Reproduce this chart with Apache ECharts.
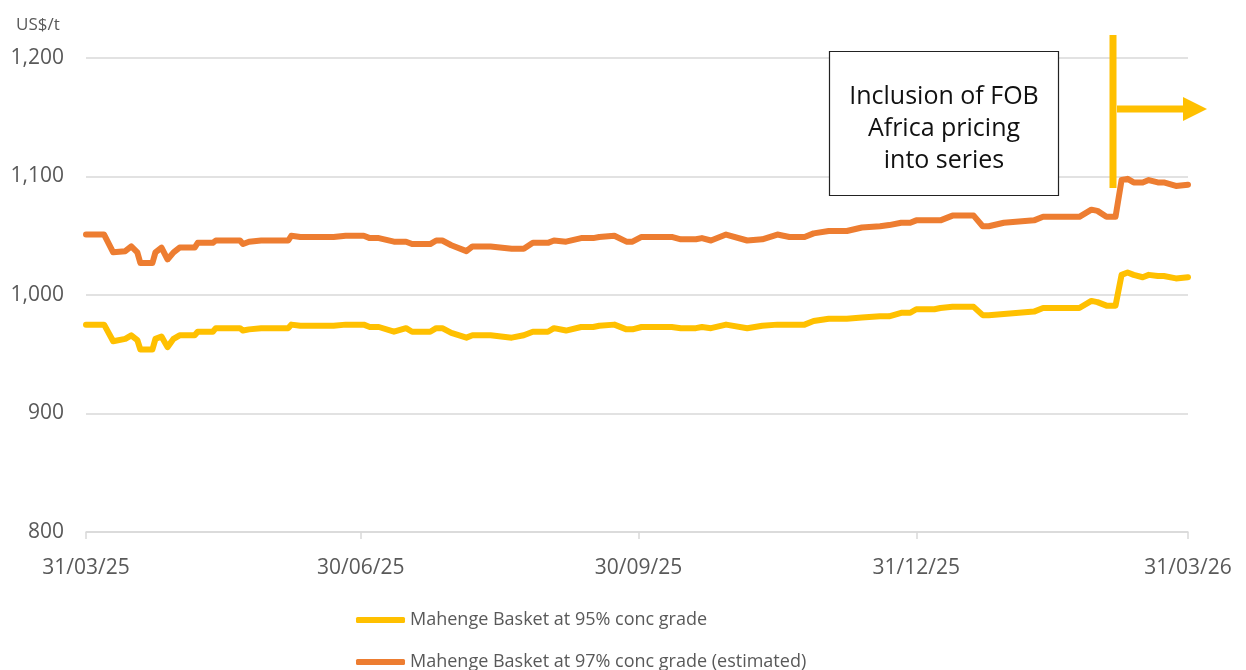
<!DOCTYPE html>
<html>
<head>
<meta charset="utf-8">
<script src="https://cdn.jsdelivr.net/npm/echarts@6/dist/echarts.min.js"></script>
<style>
  html, body { margin: 0; padding: 0; background: #fff; }
  #main { width: 1246px; height: 670px; }
</style>
</head>
<body>
<div id="main"></div>
<script>
// dates of the readings (same for both series)
var dates = [
  '2025-03-31','2025-04-06','2025-04-09','2025-04-13','2025-04-15','2025-04-17','2025-04-18','2025-04-22',
  '2025-04-23','2025-04-25','2025-04-27','2025-04-29','2025-05-01','2025-05-06','2025-05-07','2025-05-12',
  '2025-05-13','2025-05-21','2025-05-22','2025-05-24','2025-05-28','2025-06-06','2025-06-07','2025-06-10',
  '2025-06-21','2025-06-25','2025-07-01','2025-07-03','2025-07-06','2025-07-11','2025-07-15','2025-07-17',
  '2025-07-23','2025-07-25','2025-07-27','2025-07-30','2025-08-04','2025-08-06','2025-08-12','2025-08-19',
  '2025-08-23','2025-08-26','2025-08-31','2025-09-02','2025-09-06','2025-09-11','2025-09-15','2025-09-17',
  '2025-09-22','2025-09-26','2025-09-28','2025-10-01','2025-10-11','2025-10-14','2025-10-19','2025-10-21',
  '2025-10-24','2025-10-29','2025-11-05','2025-11-10','2025-11-15','2025-11-19','2025-11-24','2025-11-27',
  '2025-12-02','2025-12-08','2025-12-13','2025-12-19','2025-12-22','2025-12-26','2025-12-29','2025-12-31',
  '2026-01-06','2026-01-08','2026-01-12','2026-01-19','2026-01-22','2026-01-24','2026-01-29','2026-02-08',
  '2026-02-11','2026-02-23','2026-02-27','2026-03-01','2026-03-04','2026-03-07','2026-03-09','2026-03-11',
  '2026-03-13','2026-03-16','2026-03-18','2026-03-21','2026-03-23','2026-03-27','2026-03-31'
];
var grade95 = [
  975,975,961,963,966,962,954,954,
  963,965,956,963,966,966,969,969,
  972,972,970,971,972,972,975,974,
  974,975,975,973,973,969,972,969,
  969,972,972,968,964,966,966,964,
  966,969,969,972,970,973,973,974,
  975,971,971,973,973,972,972,973,
  972,975,972,974,975,975,975,978,
  980,980,981,982,982,985,985,988,
  988,989,990,990,983,983,984,986,
  989,989,995,994,991,991,1017,1019,
  1017,1015,1017,1016,1016,1014,1015
];
var grade97 = [
  1051,1051,1036,1037,1041,1036,1027,1027,
  1036,1040,1030,1036,1040,1040,1044,1044,
  1046,1046,1043,1045,1046,1046,1050,1049,
  1049,1050,1050,1048,1048,1045,1045,1043,
  1043,1046,1046,1042,1037,1041,1041,1039,
  1039,1044,1044,1046,1045,1048,1048,1049,
  1050,1045,1045,1049,1049,1047,1047,1048,
  1046,1051,1046,1047,1051,1049,1049,1052,
  1054,1054,1057,1058,1059,1061,1061,1063,
  1063,1063,1067,1067,1058,1058,1061,1063,
  1066,1066,1072,1071,1066,1066,1097,1098,
  1095,1095,1097,1095,1095,1092,1093
];
var tickDates = ['2025-03-31','2025-06-30','2025-09-30','2025-12-31','2026-03-31'];
var tickLabels = ['31/03/25','30/06/25','30/09/25','31/12/25','31/03/26'];
var seriesNames = ['Mahenge Basket at 95% conc grade', 'Mahenge Basket at 97% conc grade (estimated)'];

function toTime(d){ return +echarts.time.parse(d); }
var tickTimes = tickDates.map(toTime);
function pairs(vals){
  var out = [];
  for (var i = 0; i < dates.length; i++) out.push([toTime(dates[i]), vals[i]]);
  return out;
}

var FONT = '"Open Sans", "Noto Sans", sans-serif';
// one legend per row so they stack like the original
function legendRow(name, top){
  return {
    orient: 'vertical', left: 351, top: top,
    itemWidth: 49, itemHeight: 6, icon: 'roundRect',
    textStyle: { color: '#595959', fontSize: 18, fontFamily: FONT },
    data: [name]
  };
}

var chart = echarts.init(document.getElementById('main'), null, {renderer: 'canvas'});
var option = {
  animation: false,
  backgroundColor: '#fff',
  textStyle: { fontFamily: FONT },
  grid: { left: 86, right: 58, top: 58, bottom: 138, containLabel: false },
  xAxis: {
    type: 'value',
    min: tickTimes[0],
    max: tickTimes[tickTimes.length - 1],
    axisLine: { show: true, lineStyle: { color: '#d9d9d9', width: 1.5 } },
    axisTick: { show: true, length: 7, lineStyle: { color: '#d9d9d9', width: 1.5 }, customValues: tickTimes },
    axisLabel: {
      customValues: tickTimes,
      color: '#595959', fontSize: 21, margin: 26, fontFamily: FONT,
      showMinLabel: true, showMaxLabel: true,
      formatter: function(v){
        var i = tickTimes.indexOf(+v);
        return i >= 0 ? tickLabels[i] : '';
      }
    },
    splitLine: { show: false }
  },
  yAxis: {
    type: 'value',
    min: 800, max: 1200, interval: 100,
    name: 'US$/t',
    nameLocation: 'end',
    nameGap: 24,
    nameTextStyle: { color: '#595959', fontSize: 17, align: 'left', padding: [0, 0, 0, -70] },
    axisLine: { show: false },
    axisTick: { show: false },
    axisLabel: {
      color: '#595959', fontSize: 21, margin: 22, fontFamily: FONT,
      formatter: function(v){ return v.toLocaleString('en-US'); }
    },
    splitLine: { lineStyle: { color: '#d9d9d9', width: 1.5 } }
  },
  legend: [legendRow(seriesNames[0], 606), legendRow(seriesNames[1], 648)],
  series: [
    {
      name: seriesNames[0], type: 'line', showSymbol: false, symbol: 'none',
      data: pairs(grade95),
      lineStyle: { color: '#FFC000', width: 6, join: 'round', cap: 'round' },
      itemStyle: { color: '#FFC000' }
    },
    {
      name: seriesNames[1], type: 'line', showSymbol: false, symbol: 'none',
      data: pairs(grade97),
      lineStyle: { color: '#ED7D31', width: 6, join: 'round', cap: 'round' },
      itemStyle: { color: '#ED7D31' }
    }
  ],
  graphic: [
    {
      type: 'rect', z: 100,
      shape: { x: 829.5, y: 51.5, width: 229, height: 144 },
      style: { fill: '#fff', stroke: '#222', lineWidth: 1.2 }
    },
    {
      type: 'text', z: 101, x: 944, y: 129,
      style: {
        text: 'Inclusion of FOB\nAfrica pricing\ninto series',
        fill: '#111', font: '25px ' + FONT, lineHeight: 32,
        align: 'center', verticalAlign: 'middle'
      }
    },
    {
      type: 'line', z: 100,
      shape: { x1: 1113, y1: 35, x2: 1113, y2: 188 },
      style: { stroke: '#FFC000', lineWidth: 7 }
    },
    {
      type: 'line', z: 100,
      shape: { x1: 1117, y1: 109, x2: 1186, y2: 109 },
      style: { stroke: '#FFC000', lineWidth: 7 }
    },
    {
      type: 'polygon', z: 100,
      shape: { points: [[1183, 97], [1207, 109], [1183, 121]] },
      style: { fill: '#FFC000' }
    }
  ]
};
chart.setOption(option);
</script>
</body>
</html>
